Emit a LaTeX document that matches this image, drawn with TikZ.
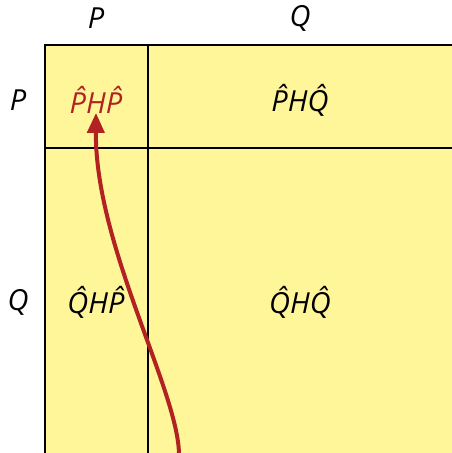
\documentclass[tikz,border=0pt]{standalone}
\usepackage{fontspec}
\setmainfont{Open Sans}
\usetikzlibrary{arrows.meta}
\definecolor{cellyellow}{HTML}{FFF599}
\definecolor{arrowred}{HTML}{B22222}
\begin{document}
\begin{tikzpicture}[x=1pt,y=-1pt,
  lbl/.style={font=\fontsize{29}{34}\selectfont\itshape, inner sep=0pt},
  grid/.style={line width=1.5pt, black},
  border/.style={line width=2pt, black}]
\useasboundingbox (0,0) rectangle (452,453);
\fill[cellyellow] (45,45) rectangle (452,453);
\draw[grid] (148,45) -- (148,453);
\draw[grid] (45,148) -- (452,148);
\draw[border] (452,45) -- (45,45) -- (45,453);
\node[lbl] (cp) at (96,18) {P};
\node[lbl] (cq) at (300,18) {Q};
\node[lbl] (rp) at (18,100) {P};
\node[lbl] (rq) at (18,302) {Q};
\node[lbl, text=arrowred] (php) at (96,100) {\^{P}H\^{P}};
\node[lbl] (phq) at (300,100) {\^{P}H\^{Q}};
\node[lbl] (qhp) at (96,302) {\^{Q}H\^{P}};
\node[lbl] (qhq) at (300,302) {\^{Q}H\^{Q}};
\coordinate (s) at (179,454);
\draw[arrowred, line width=4pt, -{Triangle[length=20pt,width=17pt]}]
  (s) .. controls (178,390) and (95,245) .. ([yshift=1pt]php.south);
\end{tikzpicture}
\end{document}
